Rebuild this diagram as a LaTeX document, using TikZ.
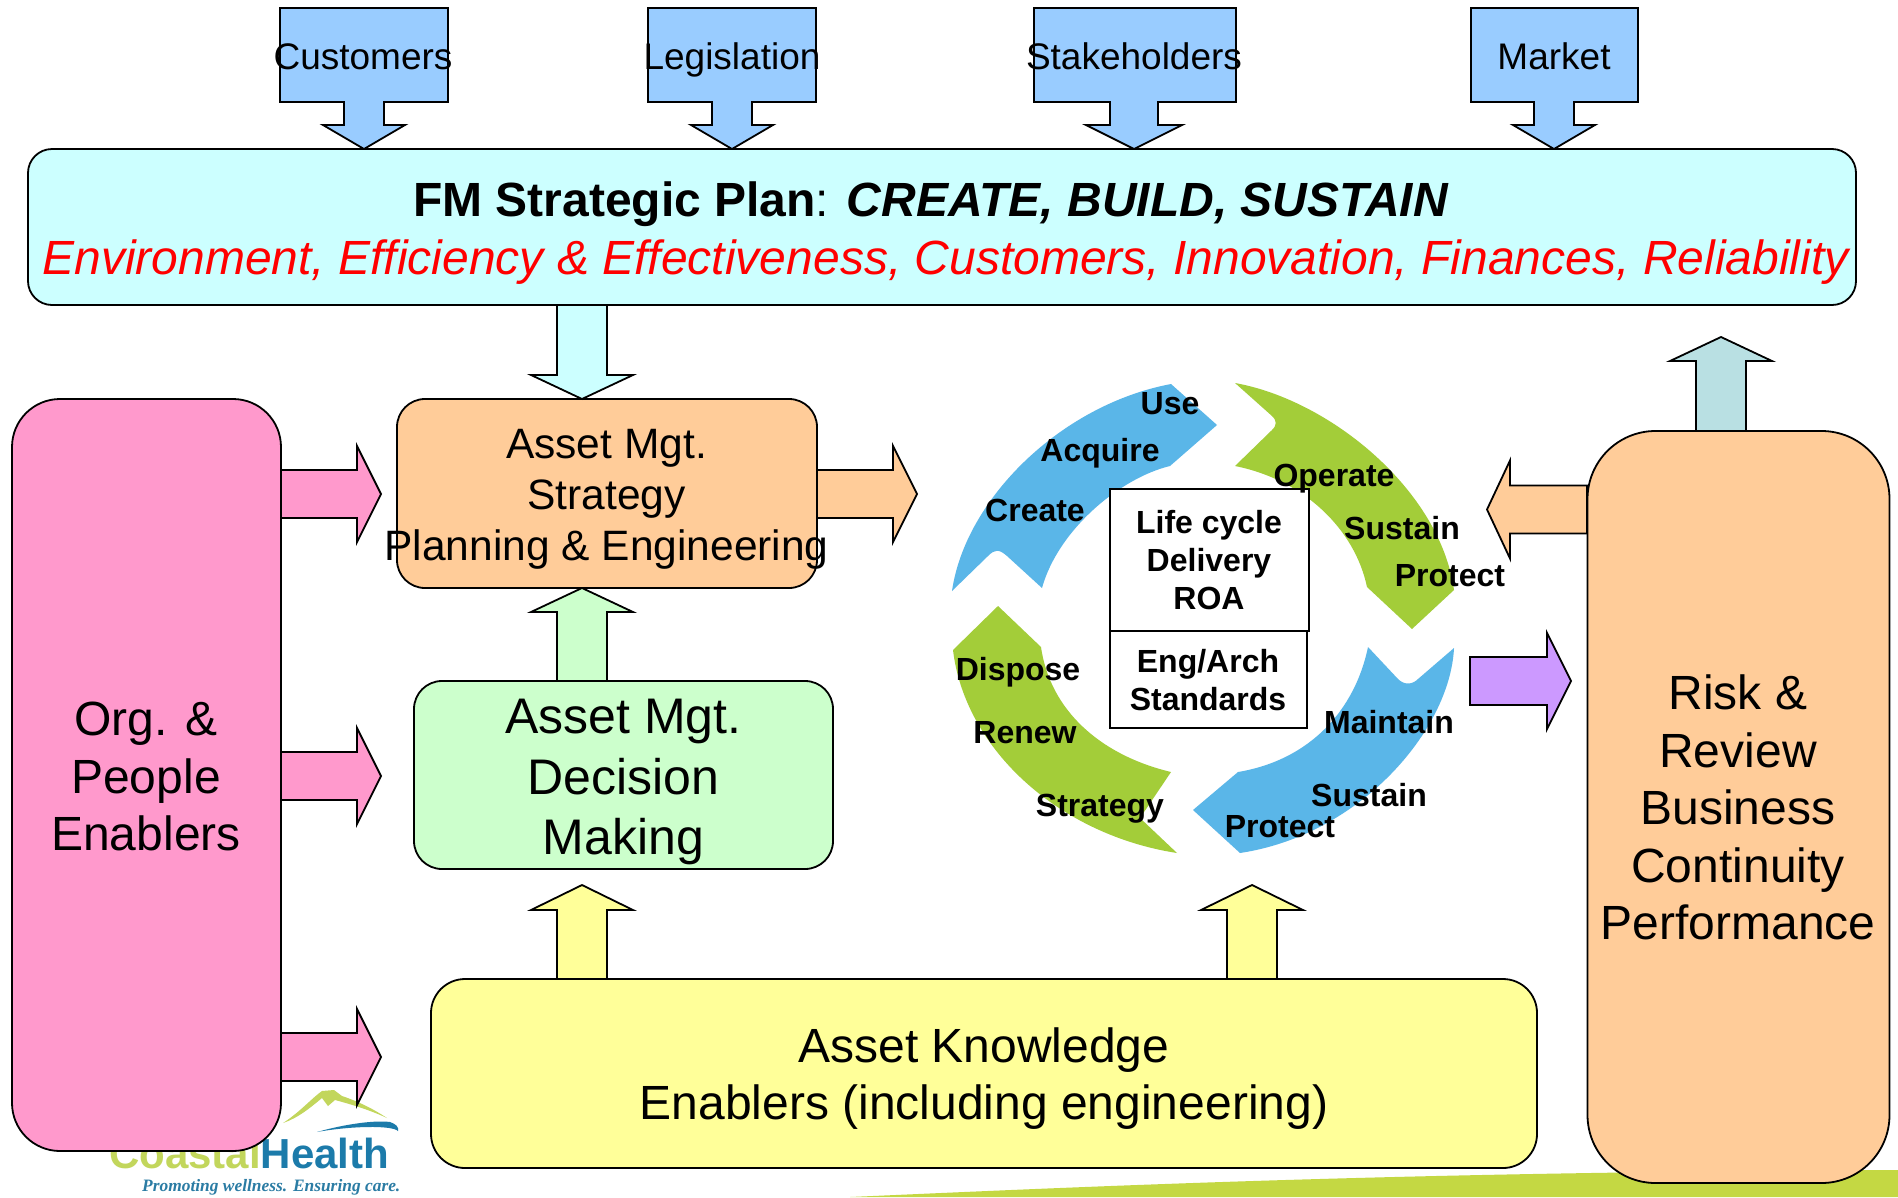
\documentclass[tikz,border=0pt]{standalone}
\usepackage{fontspec}
\setmainfont{Liberation Sans}
\newfontfamily\tagfont{Liberation Serif}
\definecolor{skyb}{HTML}{99CCFF}
\definecolor{planc}{HTML}{CCFFFF}
\definecolor{peach}{HTML}{FFCC99}
\definecolor{mint}{HTML}{CCFFCC}
\definecolor{lemon}{HTML}{FFFF99}
\definecolor{rose}{HTML}{FF99CC}
\definecolor{lilac}{HTML}{CC99FF}
\definecolor{tealb}{HTML}{B9E0E3}
\definecolor{cycb}{HTML}{5AB6E8}
\definecolor{cycg}{HTML}{A3CD39}
\definecolor{band}{HTML}{C4D843}
\definecolor{logob}{HTML}{1C7BAA}
\definecolor{logog}{HTML}{C2D65C}
\tikzset{
  box/.style={draw=black,line width=1.8pt,inner sep=0pt,outer sep=0pt,align=center},
  block/.style={draw=black,line width=1.8pt,line join=miter,miter limit=10},
  cyc/.style={draw=none},
  lab/.style={font=\fontsize{37}{44}\selectfont,inner sep=0pt,text height=26.6pt,text depth=0pt},
  clab/.style={font=\bfseries\fontsize{32}{38}\selectfont,inner sep=0pt,text height=23pt,text depth=0pt},
  ctab/.style={font=\bfseries\fontsize{32}{38}\selectfont,inner sep=0pt,align=center},
  txt/.style={inner sep=0pt,align=center},
  big/.style={font=\fontsize{48}{57.5}\selectfont},
}
% vertical block arrow: fill, centre x, base y, head-base y, tip y, half-shaft, half-head
\newcommand{\vblock}[7]{\draw[block,fill=#1] ({#2-#6},#3) -- ({#2-#6},#4) -- ({#2-#7},#4) -- (#2,#5) -- ({#2+#7},#4) -- ({#2+#6},#4) -- ({#2+#6},#3) -- cycle;}
% horizontal block arrow: fill, centre y, base x, head-base x, tip x, half-shaft, half-head
\newcommand{\hblock}[7]{\draw[block,fill=#1] (#3,{#2-#6}) -- (#4,{#2-#6}) -- (#4,{#2-#7}) -- (#5,#2) -- (#4,{#2+#7}) -- (#4,{#2+#6}) -- (#3,{#2+#6}) -- cycle;}
% callout: left, right, tip x, half-shaft, half-head
\newcommand{\callout}[5]{\draw[block,fill=skyb] (#1,8) -- (#2,8) -- (#2,102) -- ({#3+#4},102) -- ({#3+#4},125) -- ({#3+#5},125) -- (#3,149) -- ({#3-#5},125) -- ({#3-#4},125) -- ({#3-#4},102) -- (#1,102) -- cycle;}
\begin{document}
\begin{tikzpicture}[x=1pt,y=-1pt]
\useasboundingbox[fill=white] (0,0) rectangle (1898,1197);
% bottom band
\fill[band] (850,1197) .. controls (1100,1186) and (1400,1172) .. (1898,1170) -- (1898,1197) -- cycle;
% logo
\fill[logog] (283,1123) .. controls (300,1112) and (312,1098) .. (322,1091) -- (334,1090) -- (342,1096) .. controls (360,1102) and (375,1110) .. (387,1118) .. controls (370,1110) and (350,1104) .. (335,1100) -- (328,1106) -- (322,1098) .. controls (310,1108) and (298,1118) .. (283,1123) -- cycle;
\fill[logob] (317,1132) .. controls (345,1124) and (375,1120) .. (390,1122) .. controls (396,1124) and (399,1127) .. (398,1131) .. controls (392,1125) and (350,1126) .. (317,1132) -- cycle;
\node[anchor=base west,inner sep=0pt,font=\bfseries\fontsize{42}{42}\selectfont] (logo) at (109,1168) {\textcolor{logog}{Coastal}\textcolor{logob}{Health}};
\node[anchor=base west,inner sep=0pt,font=\tagfont\itshape\bfseries\fontsize{17.4}{20}\selectfont,text=logob!85!gray] (tagline) at (142,1191) {Promoting wellness. Ensuring care.};
% top callouts
\callout{280}{448}{364}{20}{41}
\callout{648}{816}{732}{20}{41}
\callout{1034}{1236}{1134}{24}{48}
\callout{1471}{1638}{1554}{20}{41}
\node[lab] (customers) at (363,56) {Customers};
\node[lab] (legislation) at (732,56) {Legislation};
\node[lab] (stakeholders) at (1134,56) {Stakeholders};
\node[lab] (market) at (1554,56) {Market};
% plan box
\node[box,fill=planc,rounded corners=24pt,minimum width=1828pt,minimum height=156pt] (plan) at (942,227) {};
\node[txt,font=\fontsize{48}{58}\selectfont] (plantext) at (945.5,233)
  {\bfseries FM Strategic Plan\mdseries: \bfseries\itshape CREATE, BUILD, SUSTAIN\hspace*{30pt}\\[0pt]
   \textcolor{red}{\itshape Environment, Efficiency \& Effectiveness, Customers, Innovation, Finances, Reliability}};
% left column arrows
\hblock{rose}{494}{281}{357}{381}{24}{48}
\hblock{rose}{776}{281}{357}{381}{24}{48}
\hblock{rose}{1057}{281}{357}{381}{24}{48}
\hblock{peach}{494}{817}{893}{917}{24}{48}
% centre boxes
\node[box,fill=peach,rounded corners=28pt,minimum width=420pt,minimum height=189pt] (strategy) at (607,493.5) {};
\node[txt,font=\fontsize{42.5}{51}\selectfont] (strategytext) at (606.5,499.5) {Asset Mgt.\\Strategy\\Planning \& Engineering};
\node[box,fill=mint,rounded corners=28pt,minimum width=419pt,minimum height=188pt] (decision) at (623.5,775) {};
\node[txt,font=\fontsize{50}{60.5}\selectfont] (decisiontext) at (623.5,782) {Asset Mgt.\\Decision\\Making};
\node[box,fill=lemon,rounded corners=34pt,minimum width=1106pt,minimum height=189pt] (knowledge) at (984,1073.5) {};
\node[txt,big] (knowledgetext) at (984,1078.5) {Asset Knowledge\\Enablers (including engineering)};
\node[box,fill=rose,rounded corners=48pt,minimum width=269pt,minimum height=752pt] (people) at (146.5,775) {};
\node[txt,big] (peopletext) at (146,776.5) {Org. \&\\People\\Enablers};
% vertical arrows
\vblock{planc}{582}{305}{375}{399}{25}{51}
\vblock{mint}{582}{681}{612}{588}{25}{51}
\vblock{lemon}{582}{979}{910}{885}{25}{51}
\vblock{lemon}{1252}{979}{910}{885}{25}{51}
\vblock{tealb}{1721}{431}{361}{337}{25}{51}
% right side
\hblock{peach}{509.5}{1587}{1510}{1487}{24}{49}
\hblock{lilac}{681}{1470}{1547}{1571}{24}{48}
\node[box,fill=peach,rounded corners=68pt,minimum width=302pt,minimum height=752pt] (risk) at (1738.5,807) {};
\node[txt,big] (risktext) at (1738,807.5) {Risk \&\\Review\\Business\\Continuity\\Performance};
% life-cycle arrows
\fill[cyc,cycb] (952,591) .. controls (965,500) and (1060,405) .. (1171,384) -- (1217,425) -- (1170,466)
  .. controls (1120,478) and (1058,530) .. (1042,588) -- (1007,556) .. controls (999,549) and (995,549) .. (988,556) -- cycle;
\fill[cyc,cycg] (1235,383) .. controls (1330,400) and (1440,490) .. (1454,590) -- (1412,629) -- (1367,587)
  .. controls (1355,530) and (1305,480) .. (1235,466) -- (1272,430) .. controls (1277,425) and (1277,421) .. (1272,416) -- cycle;
\fill[cyc,cycb] (1454,648) .. controls (1450,730) and (1360,835) .. (1240,853) -- (1193,810) -- (1238,772)
  .. controls (1310,760) and (1355,710) .. (1368,647) -- (1398,679) .. controls (1404,685) and (1412,685) .. (1418,679) -- cycle;
\fill[cyc,cycg] (953,650) .. controls (965,750) and (1060,835) .. (1177,853) -- (1140,818) -- (1171,772)
  .. controls (1100,755) and (1050,710) .. (1041,647) -- (998,606) -- cycle;
% centre table
\node[box,fill=white,minimum width=199pt,minimum height=142pt] (life) at (1209.5,560) {};
\node[ctab] (lifetext) at (1209,560.5) {Life cycle\\Delivery\\ROA};
\node[box,fill=white,minimum width=197pt,minimum height=97pt] (eng) at (1208.5,679.5) {};
\node[ctab] (engtext) at (1208,680) {Eng/Arch\\Standards};
% cycle labels
\node[clab] (use) at (1170,403) {Use};
\node[clab] (acquire) at (1100,450) {Acquire};
\node[clab] (create) at (1035,510) {Create};
\node[clab] (operate) at (1334,475) {Operate};
\node[clab] (sustaina) at (1402,528) {Sustain};
\node[clab] (protecta) at (1450,575) {Protect};
\node[clab] (dispose) at (1018,669) {Dispose};
\node[clab] (renew) at (1025,732) {Renew};
\node[clab] (strategylab) at (1100,805) {Strategy};
\node[clab] (maintain) at (1389,722) {Maintain};
\node[clab] (sustainb) at (1369,795) {Sustain};
\node[clab] (protectb) at (1280,826) {Protect};
\end{tikzpicture}
\end{document}
